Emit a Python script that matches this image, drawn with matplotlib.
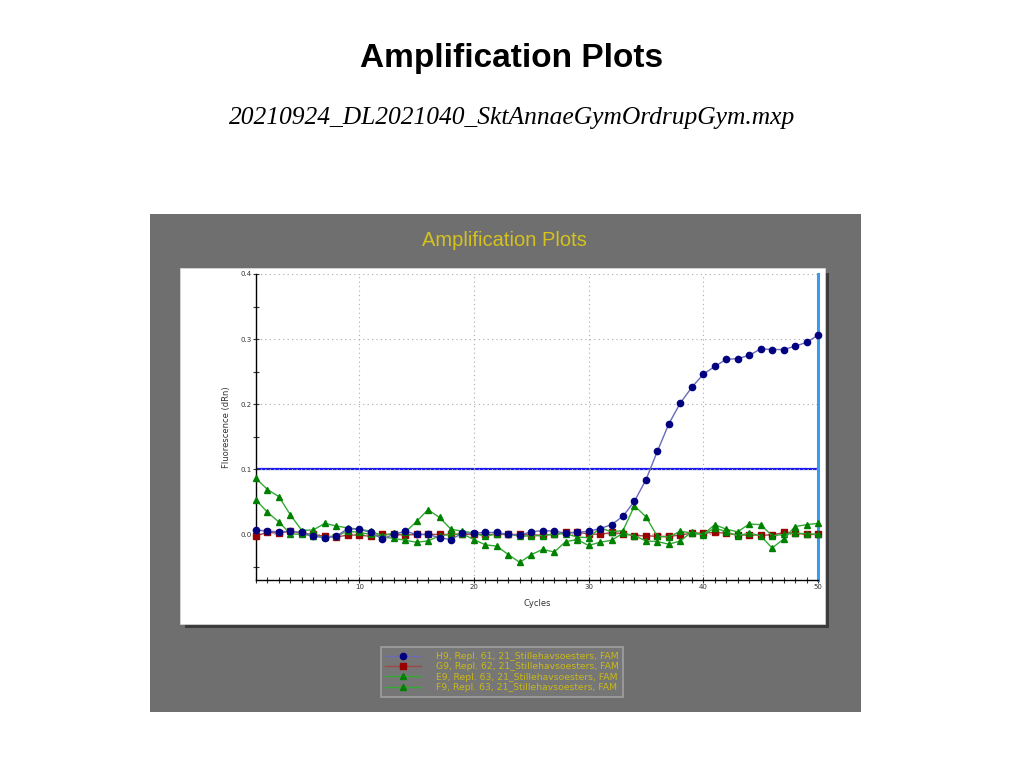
import numpy as np
import matplotlib
matplotlib.use("Agg")
import matplotlib.pyplot as plt
from matplotlib.patches import Rectangle
from matplotlib.ticker import MultipleLocator

cycles = np.arange(1, 51)

h9 = [0.007, 0.005, 0.004, 0.005, 0.003, -0.003, -0.005, -0.003, 0.009, 0.008,
      0.003, -0.007, 0.000, 0.005, 0.000, 0.000, -0.005, -0.008, 0.002, 0.002,
      0.003, 0.003, 0.000, -0.001, 0.004, 0.006, 0.005, 0.002, 0.003, 0.005,
      0.009, 0.015, 0.028, 0.051, 0.084, 0.128, 0.170, 0.202, 0.226, 0.246,
      0.258, 0.269, 0.270, 0.275, 0.285, 0.284, 0.284, 0.289, 0.295, 0.306]

g9 = [-0.002, 0.003, 0.002, 0.005, 0.002, 0.000, -0.003, -0.004, -0.001, -0.001,
      -0.003, 0.000, 0.000, -0.001, 0.000, 0.000, 0.000, 0.000, 0.000, 0.000,
      0.000, 0.000, 0.000, 0.000, -0.001, -0.001, 0.000, 0.003, 0.003, 0.001,
      0.000, 0.003, 0.001, -0.002, -0.002, -0.003, -0.003, -0.001, 0.002, 0.002,
      0.003, 0.002, -0.001, -0.001, -0.001, -0.001, 0.003, 0.002, 0.000, 0.000]

e9 = [0.086, 0.069, 0.058, 0.030, 0.006, 0.007, 0.017, 0.013, 0.010, 0.008,
      0.005, -0.002, 0.002, 0.003, 0.020, 0.038, 0.026, 0.008, 0.005, 0.002,
      -0.003, 0.001, 0.001, -0.003, -0.002, -0.002, 0.001, 0.001, -0.004, -0.005,
      0.010, 0.004, 0.006, 0.044, 0.027, -0.003, -0.004, 0.005, 0.002, 0.000,
      0.015, 0.008, 0.004, 0.016, 0.015, -0.002, 0.000, 0.002, 0.001, 0.000]

f9 = [0.053, 0.034, 0.019, 0.001, 0.000, -0.002, -0.004, -0.002, 0.005, 0.003,
      0.000, -0.004, -0.006, -0.009, -0.012, -0.010, -0.002, 0.000, 0.001, -0.008,
      -0.016, -0.018, -0.031, -0.043, -0.031, -0.023, -0.027, -0.011, -0.008, -0.017,
      -0.012, -0.009, 0.002, -0.002, -0.010, -0.011, -0.015, -0.010, 0.004, -0.001,
      0.010, 0.004, -0.002, 0.002, -0.002, -0.021, -0.007, 0.012, 0.015, 0.017]

labels = ["H9, Repl. 61, 21_Stillehavsoesters, FAM",
          "G9, Repl. 62, 21_Stillehavsoesters, FAM",
          "E9, Repl. 63, 21_Stillehavsoesters, FAM",
          "F9, Repl. 63, 21_Stillehavsoesters, FAM"]

threshold = 0.1

W, H = 1024, 768


def fx(px):
    return px / W


def fy(py):
    return 1 - py / H


fig = plt.figure(figsize=(10.24, 7.68), dpi=100)
fig.patch.set_facecolor("white")

fig.text(0.5, fy(58), "Amplification Plots", ha="center", va="center",
         fontsize=24, fontweight="bold", family="Liberation Sans")
fig.text(0.5, fy(118), "20210924_DL2021040_SktAnnaeGymOrdrupGym.mxp",
         ha="center", va="center", fontsize=18.4, style="italic",
         family="Liberation Serif")

# gray screenshot panel
fig.patches.append(Rectangle((fx(150), fy(712)), fx(711), 498 / H,
                             transform=fig.transFigure, facecolor="#6f6f6f",
                             edgecolor="none", zorder=-3))
# shadow and white card
fig.patches.append(Rectangle((fx(185), fy(628)), fx(644), 355 / H,
                             transform=fig.transFigure, facecolor="#3c3c3c",
                             edgecolor="none", zorder=-2))
fig.patches.append(Rectangle((fx(180), fy(624)), fx(645), 356 / H,
                             transform=fig.transFigure, facecolor="white",
                             edgecolor="#dddddd", lw=0.5, zorder=-1))

fig.text(fx(504), fy(241), "Amplification Plots", ha="center", va="center",
         fontsize=14.5, color="#d6c21c", family="Liberation Sans")

ax = fig.add_axes([fx(256), fy(580), fx(562), 306 / H])
ax.set_facecolor("white")

l1, = ax.plot(cycles, h9, color="#6a6ab8", lw=1, marker="o", ms=4.5,
              mfc="#000080", mec="#000080", zorder=4, clip_on=False)
l2, = ax.plot(cycles, g9, color="#a04848", lw=1, marker="s", ms=4.5,
              mfc="#990000", mec="#990000", zorder=3, clip_on=False)
l3, = ax.plot(cycles, e9, color="#33aa33", lw=1, marker="^", ms=5,
              mfc="#008000", mec="#008000", zorder=3, clip_on=False)
l4, = ax.plot(cycles, f9, color="#33aa33", lw=1, marker="^", ms=5,
              mfc="#008000", mec="#008000", zorder=3, clip_on=False)

ax.axhline(threshold, color="#1a1aee", lw=1.6, zorder=1)
ax.axvline(50, color="#3a9af0", lw=2.2, zorder=2, clip_on=False)

ax.set_xlim(1, 50)
ax.set_ylim(-0.07, 0.4)
ax.xaxis.set_major_locator(MultipleLocator(10))
ax.xaxis.set_minor_locator(MultipleLocator(1))
ax.yaxis.set_major_locator(MultipleLocator(0.1))
ax.yaxis.set_minor_locator(MultipleLocator(0.05))
ax.set_xticks([10, 20, 30, 40, 50])
ax.set_yticks([0.0, 0.1, 0.2, 0.3, 0.4])
ax.set_yticklabels(["0.0", "0.1", "0.2", "0.3", "0.4"])
ax.tick_params(which="both", direction="inout", labelsize=5, colors="#333333",
               length=4, width=0.8, pad=1)
ax.tick_params(which="minor", length=4)
ax.grid(True, which="major", color="#aaaaaa", linestyle=(0, (1, 3)), lw=0.8)

for s in ["top", "right"]:
    ax.spines[s].set_visible(False)
for s in ["left", "bottom"]:
    ax.spines[s].set_color("black")
    ax.spines[s].set_linewidth(1)

ax.set_xlabel("Cycles", fontsize=6, color="#333333", labelpad=6)
ax.set_ylabel("Fluorescence (dRn)", fontsize=6, color="#333333", labelpad=7)

leg = fig.legend([l1, l2, l3, l4], labels, loc="center",
                 bbox_to_anchor=(fx(502), fy(672)), fontsize=6.7,
                 labelcolor="#c9b81a", facecolor="#767676",
                 edgecolor="#a0a0a0", framealpha=1, fancybox=False,
                 handlelength=3.8, numpoints=1, borderpad=0.5,
                 labelspacing=0.15, handletextpad=1.6)
leg.get_frame().set_linewidth(1.2)

fig.savefig("out.png", dpi=100)
